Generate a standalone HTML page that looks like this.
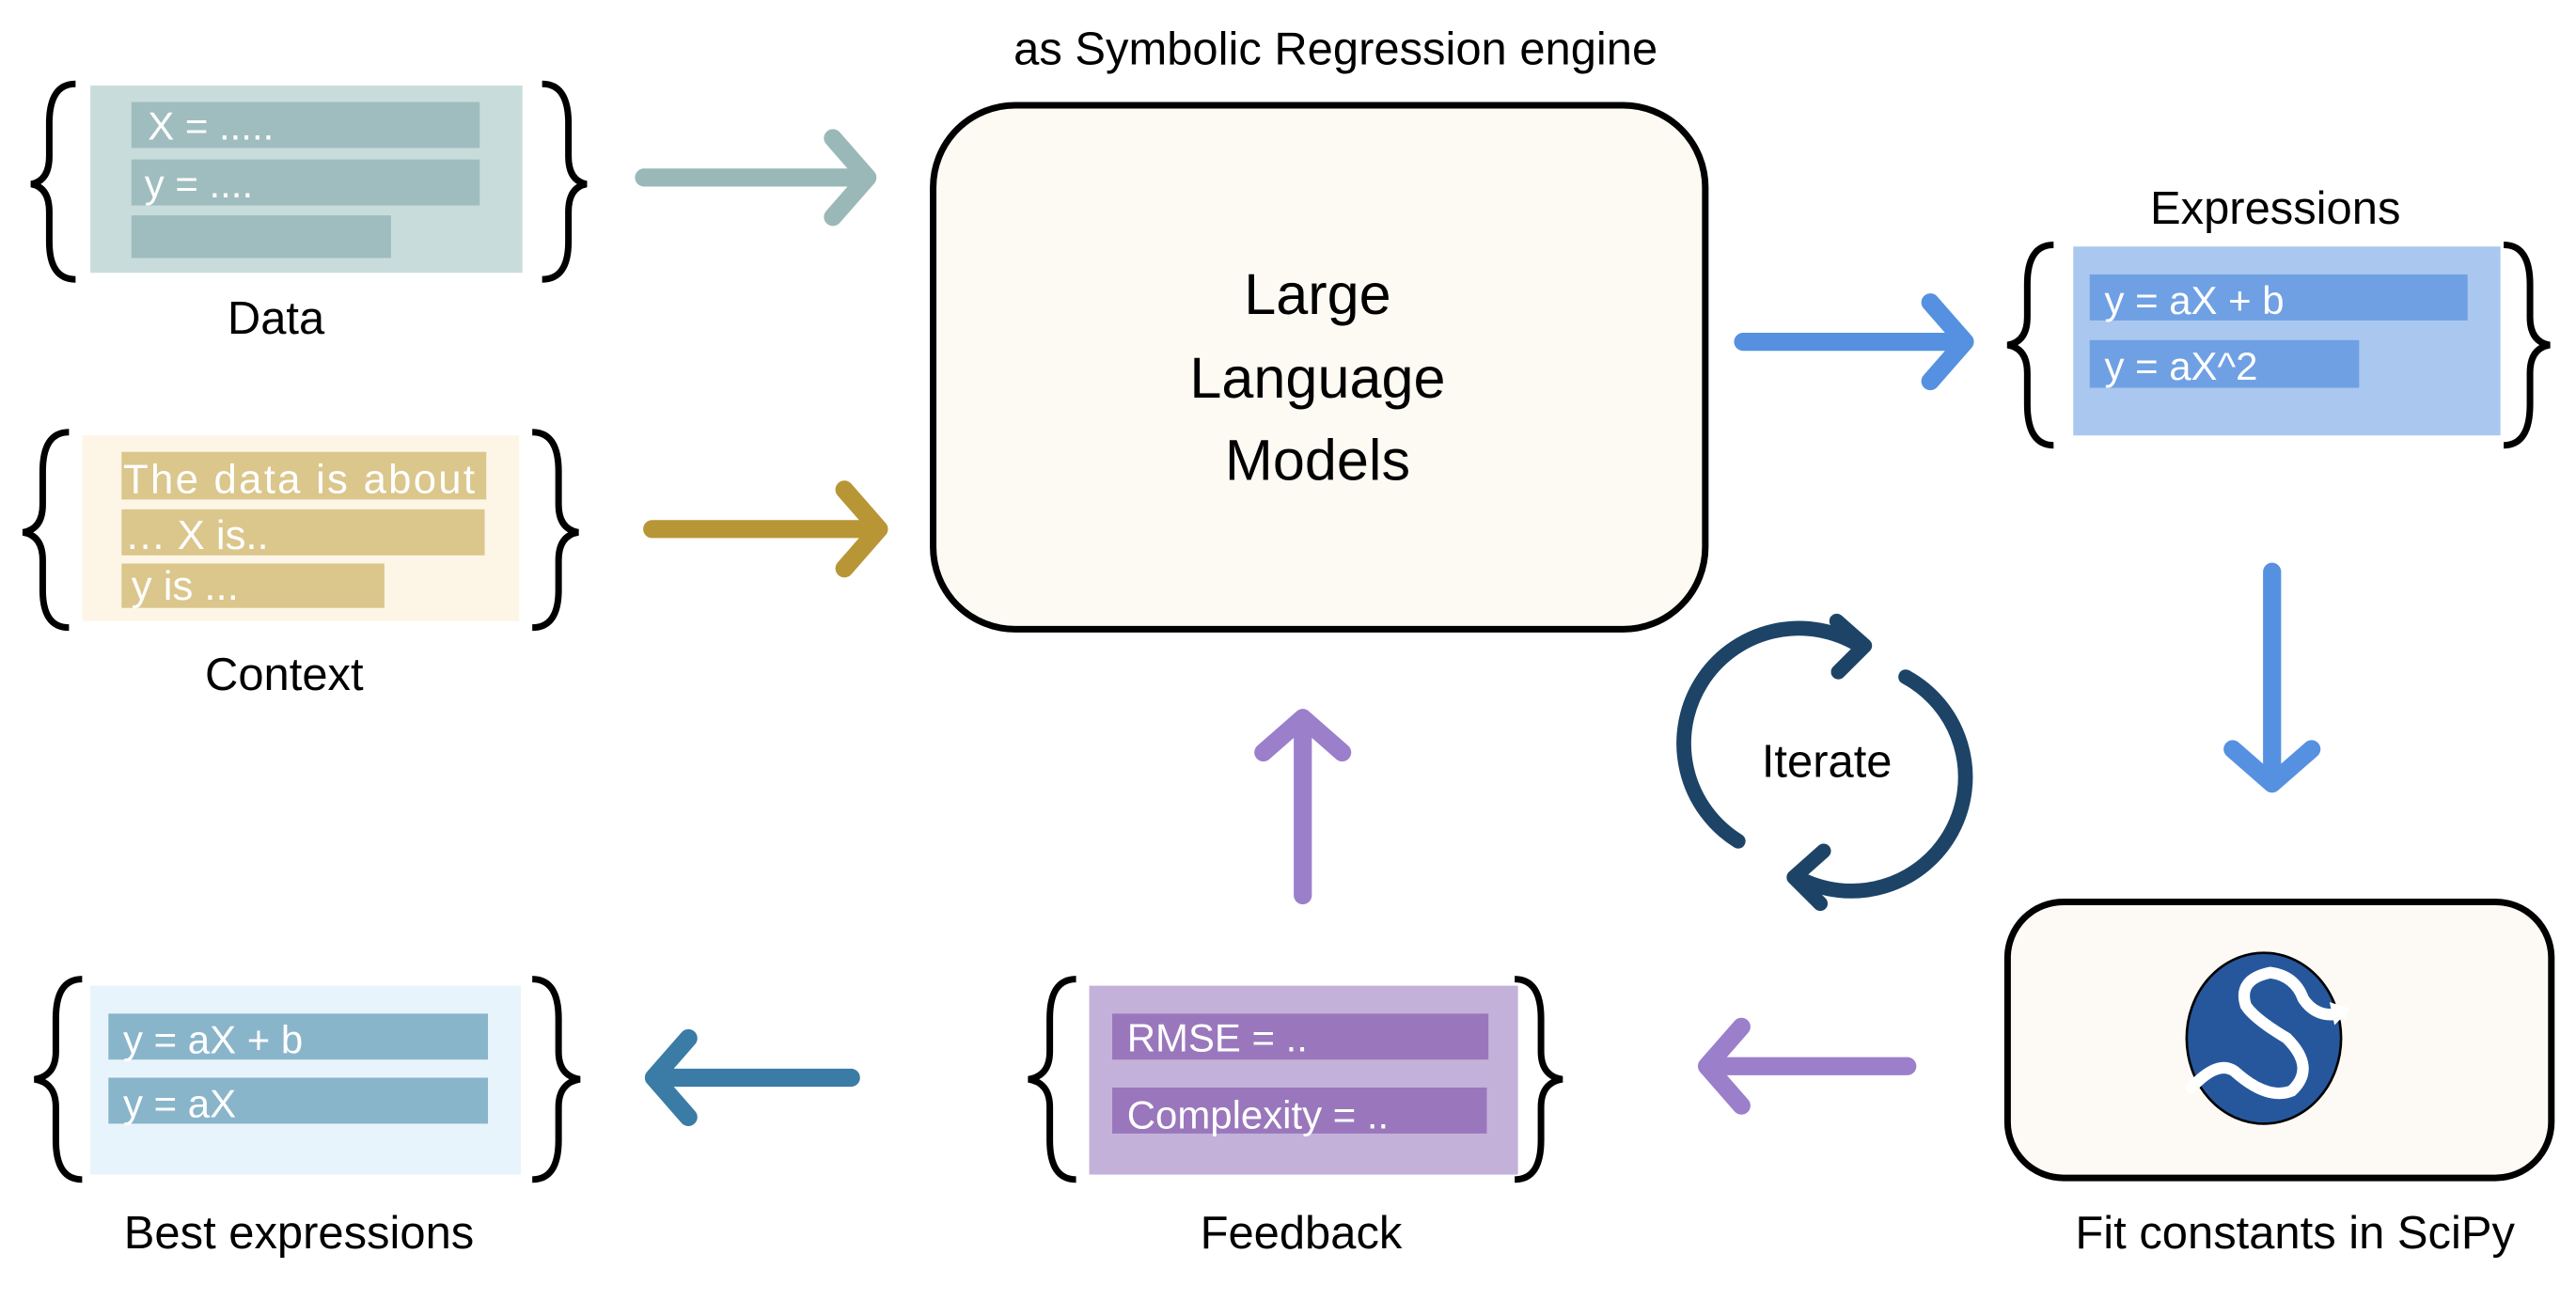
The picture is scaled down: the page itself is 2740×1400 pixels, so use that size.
<!DOCTYPE html>
<html><head><meta charset="utf-8"><style>
html,body{margin:0;padding:0;background:#fff;}
svg{display:block;}
text{font-family:"Liberation Sans",sans-serif;}
</style></head><body>
<svg width="2740" height="1400" viewBox="0 0 1568 801" xmlns="http://www.w3.org/2000/svg">
<rect width="1568" height="801" fill="#fff"/>
<g fill="none" stroke="#000" stroke-width="4" stroke-linecap="butt">
<path d="M46,51 Q30,51 30,75 L30,95 Q30,110 19,112 Q30,114 30,129 L30,147 Q30,170 46,170"/>
<path d="M330,51 Q346,51 346,75 L346,95 Q346,110 357,112 Q346,114 346,129 L346,147 Q346,170 330,170"/>
<path d="M42,263 Q26,263 26,287 L26,307 Q26,322 14,324 Q26,326 26,341 L26,359 Q26,382 42,382"/>
<path d="M324,263 Q340,263 340,287 L340,307 Q340,322 352,324 Q340,326 340,341 L340,359 Q340,382 324,382"/>
<path d="M1250,149 Q1234,149 1234,173 L1234,193 Q1234,208 1222,210 Q1234,212 1234,227 L1234,246 Q1234,271 1250,271"/>
<path d="M1524,149 Q1540,149 1540,173 L1540,193 Q1540,208 1552,210 Q1540,212 1540,227 L1540,246 Q1540,271 1524,271"/>
<path d="M655,596 Q639,596 639,620 L639,640 Q639,655 626,657 Q639,659 639,674 L639,694 Q639,718 655,718"/>
<path d="M922,596 Q938,596 938,620 L938,640 Q938,655 951,657 Q938,659 938,674 L938,694 Q938,718 922,718"/>
<path d="M50,596 Q34,596 34,620 L34,640 Q34,655 21,657 Q34,659 34,674 L34,694 Q34,718 50,718"/>
<path d="M324,596 Q340,596 340,620 L340,640 Q340,655 353,657 Q340,659 340,674 L340,694 Q340,718 324,718"/>
</g>

<rect x="55" y="52" width="263" height="114" fill="#c9dcdc"/>
<rect x="80" y="62" width="212" height="28" fill="#9fbdbe"/>
<rect x="80" y="97" width="212" height="28" fill="#9fbdbe"/>
<rect x="80" y="131" width="158" height="26" fill="#9fbdbe"/>
<text x="90" y="85" font-size="24" fill="#fff">X = .....</text>
<text x="88" y="120" font-size="24" fill="#fff">y = ....</text>
<text x="168" y="203" font-size="28" text-anchor="middle">Data</text>

<rect x="50" y="265" width="266" height="113" fill="#fdf6e6"/>
<rect x="74" y="275" width="222" height="29" fill="#dbc68c"/>
<rect x="74" y="310" width="221" height="28" fill="#dbc68c"/>
<rect x="74" y="343" width="160" height="27" fill="#dbc68c"/>
<text x="75" y="300" font-size="25" fill="#fff" textLength="214">The data is about</text>
<text x="76" y="334" font-size="25" fill="#fff">…   X is..</text>
<text x="80" y="365" font-size="25" fill="#fff">y is ...</text>
<text x="173" y="420" font-size="28" text-anchor="middle">Context</text>

<g fill="none" stroke-width="11" stroke-linecap="round" stroke-linejoin="round">
<path d="M392,108 H528 M507,84 L528,108 L507,132" stroke="#9ab8b8"/>
<path d="M397,322 H535 M514,298 L535,322 L514,346" stroke="#b89636"/>
<path d="M1061,208 H1196 M1175,184 L1196,208 L1175,232" stroke="#5591e0"/>
<path d="M1383,348 V477 M1359,456 L1383,477 L1407,456" stroke="#5591e0"/>
<path d="M1161,649 H1039 M1060,625 L1039,649 L1060,673" stroke="#9b7fcb"/>
<path d="M793,545 V437 M769,458 L793,437 L817,458" stroke="#9b7fcb"/>
<path d="M518,656 H398 M419,632 L398,656 L419,680" stroke="#3a7ca5"/>
</g>

<text x="813" y="39" font-size="28" text-anchor="middle">as Symbolic Regression engine</text>
<rect x="568" y="64" width="470" height="319" rx="50" fill="#fdfaf3" stroke="#000" stroke-width="4"/>
<text x="802" y="191" font-size="35" text-anchor="middle">Large</text>
<text x="802" y="242" font-size="35" text-anchor="middle">Language</text>
<text x="802" y="292" font-size="35" text-anchor="middle">Models</text>

<text x="1385" y="136" font-size="28" text-anchor="middle">Expressions</text>
<rect x="1262" y="150" width="260" height="115" fill="#a9c7ef"/>
<rect x="1272" y="167" width="230" height="28" fill="#6fa0e3"/>
<rect x="1272" y="207" width="164" height="29" fill="#6fa0e3"/>
<text x="1281" y="191" font-size="24" fill="#fff">y = aX + b</text>
<text x="1281" y="231" font-size="24" fill="#fff">y = aX^2</text>

<rect x="1222" y="549" width="331" height="168" rx="34" fill="#fdfaf5" stroke="#000" stroke-width="4"/>
<ellipse cx="1378" cy="632" rx="47" ry="52" fill="#26579c" stroke="#000" stroke-width="1.5"/>
<path d="M1334,662 Q1350,645 1360,652 Q1380,670 1395,664 Q1410,650 1392,632 Q1372,620 1367,612 Q1362,596 1382,592 Q1397,594 1402,608 Q1410,620 1425,617" fill="none" stroke="#fff" stroke-width="7" stroke-linecap="round"/>
<path d="M1418,610 L1431,614 L1421,624 Z" fill="#fff"/>
<text x="1397" y="760" font-size="28" text-anchor="middle">Fit constants in SciPy</text>

<g fill="none" stroke="#1d4466" stroke-width="9" stroke-linecap="round" stroke-linejoin="round">
<path d="M1058,512 A68,68 0 0 1 1132,393"/>
<path d="M1118,378 L1135,393 L1119,409"/>
<path d="M1160,412 A66,66 0 0 1 1094,534"/>
<path d="M1110,518 L1092,534 L1108,550"/>
</g>
<text x="1112" y="473" font-size="28" text-anchor="middle">Iterate</text>

<rect x="663" y="600" width="261" height="115" fill="#c3b1d9"/>
<rect x="677" y="617" width="229" height="28" fill="#9a77bc"/>
<rect x="677" y="662" width="228" height="28" fill="#9a77bc"/>
<text x="686" y="640" font-size="24" fill="#fff">RMSE =  ..</text>
<text x="686" y="687" font-size="24" fill="#fff">Complexity = ..</text>
<text x="792" y="760" font-size="28" text-anchor="middle">Feedback</text>

<rect x="55" y="600" width="262" height="115" fill="#e8f4fb"/>
<rect x="66" y="617" width="231" height="28" fill="#89b5cb"/>
<rect x="66" y="656" width="231" height="28" fill="#89b5cb"/>
<text x="75" y="641" font-size="24" fill="#fff">y = aX + b</text>
<text x="75" y="680" font-size="24" fill="#fff">y = aX</text>
<text x="182" y="760" font-size="28" text-anchor="middle">Best expressions</text>
</svg>
</body></html>
